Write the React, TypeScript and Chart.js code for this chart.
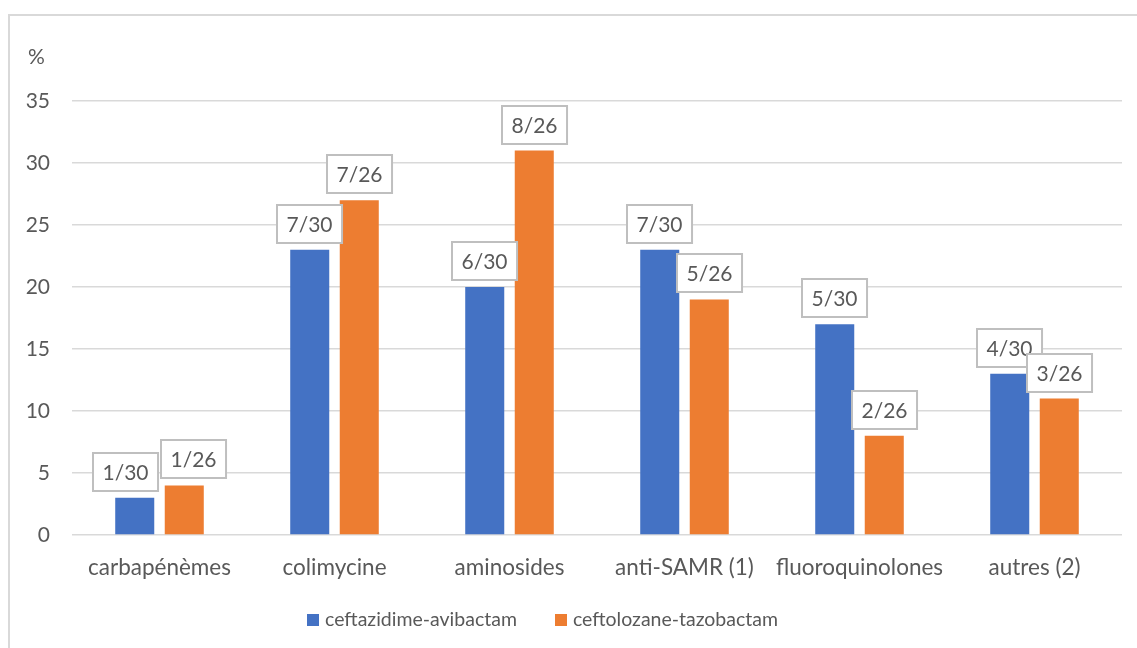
import React, { useEffect, useRef } from "react";
import { Chart, registerables } from "chart.js";

Chart.register(...registerables);

const categories = ["carbapénèmes", "colimycine", "aminosides", "anti-SAMR (1)", "fluoroquinolones", "autres (2)"];
const seriesNames = ["ceftazidime-avibactam", "ceftolozane-tazobactam"];
const cazAviValues = [3, 23, 20, 23, 17, 13];
const cefTazValues = [4, 27, 31, 19, 8, 11];
const cazAviLabels = ["1/30", "7/30", "6/30", "7/30", "5/30", "4/30"];
const cefTazLabels = ["1/26", "7/26", "8/26", "5/26", "2/26", "3/26"];
const yMax = 35;
const yStep = 5;
const yUnit = "%";

const BLUE = "#4472C4";
const ORANGE = "#ED7D31";
const TEXT = "#595959";
const FONT_FAMILY = "Lato";
const FONT_SIZE = 21;
const CAT_FONT_SIZE = 22.5;
const LEGEND_FONT_SIZE = 19.5;

const decorPlugin = {
  id: "decor",
  afterDatasetsDraw(chart: any) {
    const ctx = chart.ctx;
    ctx.save();
    ctx.font = `${FONT_SIZE}px ${FONT_FAMILY}`;
    const labelSets = [cazAviLabels, cefTazLabels];
    const metas = [chart.getDatasetMeta(0), chart.getDatasetMeta(1)];
    const h = 38;
    const padX = 9.5;
    const gap = 7;
    for (let i = 0; i < categories.length; i++) {
      const boxes = metas.map((m: any, d: number) => {
        const el = m.data[i];
        const text = labelSets[d][i];
        const w = ctx.measureText(text).width + padX * 2;
        return { x: el.x, w, top: el.y - gap - h, text };
      });
      const a = boxes[0];
      const b = boxes[1];
      const xOv = a.x + a.w / 2 - (b.x - b.w / 2);
      const yOv = Math.min(a.top + h, b.top + h) - Math.max(a.top, b.top);
      if (xOv > 0 && yOv > h / 2) {
        const shift = (xOv + 3) / 2;
        a.x -= shift;
        b.x += shift;
      }
      for (const bx of boxes) {
        const left = Math.round(bx.x - bx.w / 2);
        const top = Math.round(bx.top);
        ctx.fillStyle = "#ffffff";
        ctx.fillRect(left, top, bx.w, h);
        ctx.strokeStyle = "#bfbfbf";
        ctx.lineWidth = 2;
        ctx.strokeRect(left, top, bx.w, h);
        ctx.fillStyle = TEXT;
        ctx.textAlign = "center";
        ctx.textBaseline = "middle";
        ctx.fillText(bx.text, left + bx.w / 2, top + h / 2 + 1);
      }
    }
    ctx.restore();
  },
  afterDraw(chart: any) {
    const ctx = chart.ctx;
    ctx.save();
    // outer frame
    ctx.strokeStyle = "#d9d9d9";
    ctx.lineWidth = 2;
    ctx.beginPath();
    ctx.moveTo(9, 648);
    ctx.lineTo(9, 15);
    ctx.lineTo(1137, 15);
    ctx.stroke();
    // unit label
    ctx.font = `${FONT_SIZE}px ${FONT_FAMILY}`;
    ctx.fillStyle = TEXT;
    ctx.textAlign = "left";
    ctx.textBaseline = "middle";
    ctx.fillText(yUnit, 28, 57);
    // legend
    ctx.font = `${LEGEND_FONT_SIZE}px ${FONT_FAMILY}`;
    const sq = 12;
    const sp = 6;
    const itemGap = 38;
    const w1 = ctx.measureText(seriesNames[0]).width;
    const w2 = ctx.measureText(seriesNames[1]).width;
    const total = sq + sp + w1 + itemGap + sq + sp + w2;
    let x = 542.5 - total / 2;
    const yc = 620;
    const colors = [BLUE, ORANGE];
    const widths = [w1, w2];
    for (let d = 0; d < 2; d++) {
      ctx.fillStyle = colors[d];
      ctx.fillRect(Math.round(x), yc - 6, sq, sq);
      x += sq + sp;
      ctx.fillStyle = TEXT;
      ctx.fillText(seriesNames[d], x, yc);
      x += widths[d] + itemGap;
    }
    ctx.restore();
  },
};

export default function App() {
  const ref = useRef<HTMLCanvasElement | null>(null);
  useEffect(() => {
    document.body.style.margin = "0";
    const canvas = ref.current!;
    const font = { family: FONT_FAMILY, size: FONT_SIZE };
    const chart = new Chart(canvas, {
      type: "bar",
      data: {
        labels: categories,
        datasets: [
          { label: seriesNames[0], data: cazAviValues, backgroundColor: BLUE, categoryPercentage: 0.566, barPercentage: 0.788 },
          { label: seriesNames[1], data: cefTazValues, backgroundColor: ORANGE, categoryPercentage: 0.566, barPercentage: 0.788 },
        ],
      },
      options: {
        responsive: false,
        animation: false,
        devicePixelRatio: 1,
        layout: { padding: { top: 101, left: 0, right: 15, bottom: 53 } },
        plugins: { legend: { display: false }, tooltip: { enabled: false }, title: { display: false } },
        scales: {
          x: {
            grid: { display: false },
            border: { display: false },
            ticks: { font: { family: FONT_FAMILY, size: CAT_FONT_SIZE }, color: TEXT, padding: 11, maxRotation: 0, autoSkip: false },
            afterFit: (s: any) => { s.height = 60; },
          },
          y: {
            min: 0,
            max: yMax,
            grid: { color: "#d9d9d9", lineWidth: 1.5, drawTicks: false },
            border: { display: false },
            ticks: { stepSize: yStep, font, color: TEXT, padding: 22 },
            afterFit: (s: any) => { s.width = 72; },
          },
        },
      },
      plugins: [decorPlugin],
    });
    return () => chart.destroy();
  }, []);
  return <canvas ref={ref} width={1137} height={648} style={{ display: "block" }} />;
}
